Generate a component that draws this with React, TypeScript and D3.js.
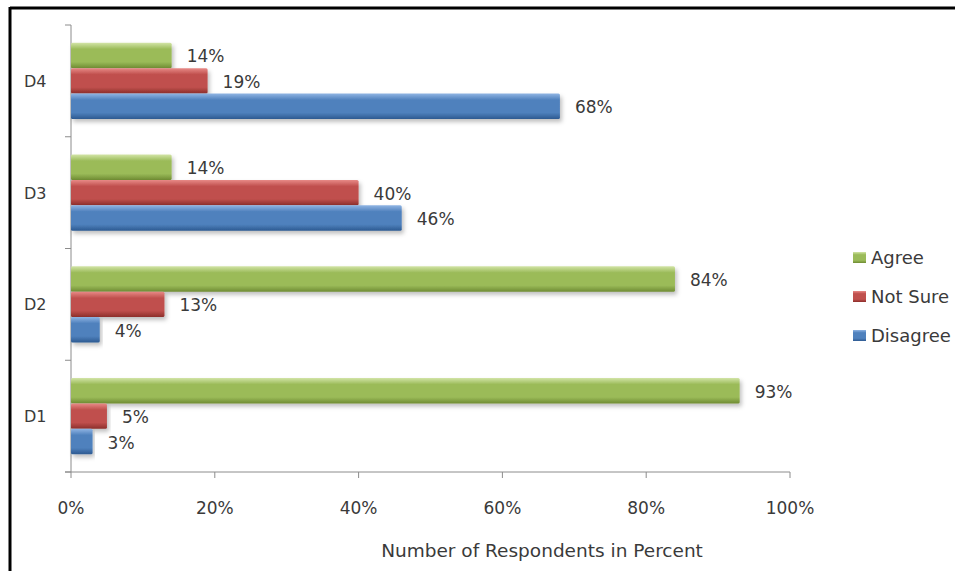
import React from "react";
import * as d3 from "d3";

const categories = ["D4", "D3", "D2", "D1"];
const seriesNames = ["Agree", "Not Sure", "Disagree"];
const agree = [14, 14, 84, 93];
const notSure = [19, 40, 13, 5];
const disagree = [68, 46, 4, 3];
const xTicks = [0, 20, 40, 60, 80, 100];

const W = 955;
const H = 571;
const margin = { left: 71, right: 165, top: 25, bottom: 99 };

const colors = [
  { light: "#d2e4a6", mid: "#9bbb59", dark: "#6f8c33" },
  { light: "#e88a87", mid: "#c0504d", dark: "#8c2e2b" },
  { light: "#8fb4e3", mid: "#4f81bd", dark: "#2d5a91" },
];

export default function App() {
  const values = [agree, notSure, disagree];
  const x = d3.scaleLinear().domain([0, 100]).range([margin.left, 790]);
  const y = d3.scaleBand().domain(categories).range([margin.top, H - margin.bottom]).paddingInner(0).paddingOuter(0);
  const inner = d3.scaleBand().domain(seriesNames).range([0, y.bandwidth()]).paddingOuter(0.7).paddingInner(0);
  const fontFamily = "'DejaVu Sans', Verdana, sans-serif";
  const axisY = H - margin.bottom;
  const bandEdges = categories.map((c) => y(c) as number).concat([axisY]);
  const textFill = "#3a3a3a";

  return (
    <svg width={W} height={H} style={{ position: "absolute", left: 0, top: 0, background: "#fff" }}>
      <defs>
        {colors.map((c, i) => (
          <linearGradient key={i} id={`g${i}`} x1="0" y1="0" x2="0" y2="1">
            <stop offset="0%" stopColor={c.light} />
            <stop offset="25%" stopColor={c.mid} />
            <stop offset="75%" stopColor={c.mid} />
            <stop offset="100%" stopColor={c.dark} />
          </linearGradient>
        ))}
        <filter id="shadow" x="-5%" y="-20%" width="115%" height="160%">
          <feDropShadow dx="2" dy="3" stdDeviation="2" floodColor="#000" floodOpacity="0.25" />
        </filter>
      </defs>
      <rect x={0} y={0} width={W} height={H} fill="#fff" />
      <line x1={10} y1={8} x2={W} y2={8} stroke="#000" strokeWidth={3} />
      <line x1={10} y1={7} x2={10} y2={H} stroke="#000" strokeWidth={3} />

      {/* y axis */}
      <line x1={margin.left} y1={margin.top} x2={margin.left} y2={axisY} stroke="#8c8c8c" strokeWidth={1} />
      {bandEdges.map((e, i) => (
        <line key={i} x1={margin.left - 6} y1={e} x2={margin.left} y2={e} stroke="#8c8c8c" />
      ))}
      {categories.map((c) => (
        <text key={c} x={24} y={(y(c) as number) + y.bandwidth() / 2 + 6} fontSize={16} fontFamily={fontFamily} fill={textFill}>
          {c}
        </text>
      ))}

      {/* x axis */}
      <line x1={margin.left - 6} y1={axisY} x2={x(100)} y2={axisY} stroke="#8c8c8c" />
      {xTicks.map((t) => (
        <g key={t}>
          <line x1={x(t)} y1={axisY} x2={x(t)} y2={axisY + 6} stroke="#8c8c8c" />
          <text x={x(t)} y={axisY + 42} textAnchor="middle" fontSize={17} fontFamily={fontFamily} fill={textFill}>
            {t}%
          </text>
        </g>
      ))}
      <text x={542} y={557} textAnchor="middle" fontSize={18.5} fontFamily={fontFamily} fill={textFill}>
        Number of Respondents in Percent
      </text>

      {/* bars */}
      {categories.map((c, ci) => (
        <g key={c}>
          {seriesNames.map((s, si) => {
            const v = values[si][ci];
            const by = (y(c) as number) + (inner(s) as number);
            const bh = inner.bandwidth();
            return (
              <g key={s}>
                <rect x={x(0)} y={by} width={x(v) - x(0)} height={bh} fill={`url(#g${si})`} rx={1.5} filter="url(#shadow)" />
                <text x={x(v) + 15} y={by + bh / 2 + 7} fontSize={17} fontFamily={fontFamily} fill={textFill}>
                  {v}%
                </text>
              </g>
            );
          })}
        </g>
      ))}

      {/* legend */}
      {seriesNames.map((s, i) => (
        <g key={s} transform={`translate(853, ${252 + i * 39})`}>
          <rect x={0} y={0} width={13} height={11} fill={`url(#g${i})`} />
          <text x={18} y={12} fontSize={18} fontFamily={fontFamily} fill={textFill}>
            {s}
          </text>
        </g>
      ))}
    </svg>
  );
}
